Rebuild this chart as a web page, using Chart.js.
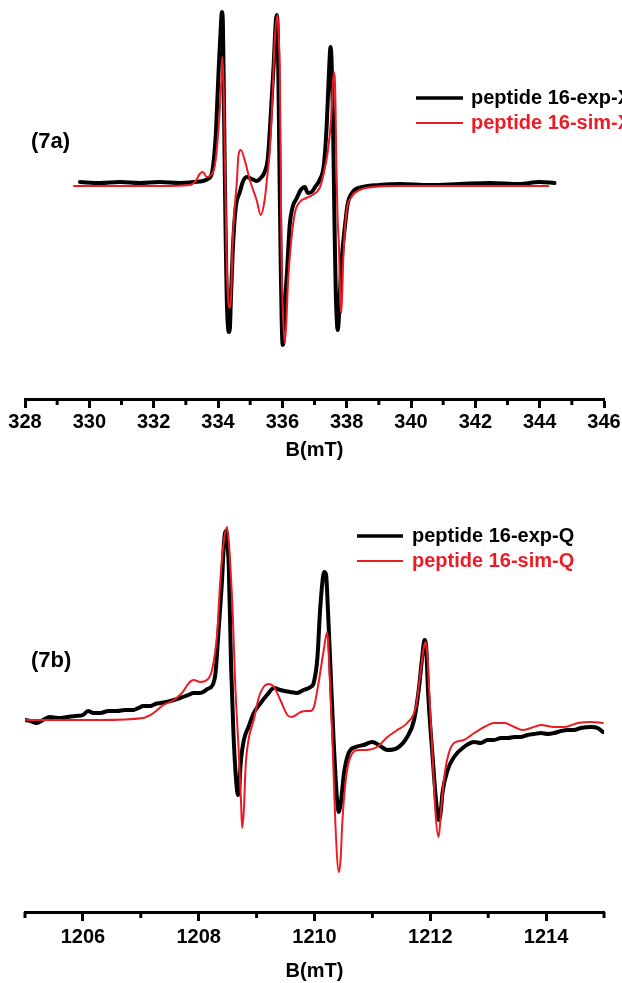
<!DOCTYPE html>
<html><head><meta charset="utf-8">
<script src="https://cdn.jsdelivr.net/npm/chart.js@4.4.0/dist/chart.umd.min.js"></script>
<style>
html,body{margin:0;padding:0;background:#fff;overflow:hidden;width:622px;height:983px;}
.wrap{position:absolute;left:0;}
.panel{position:absolute;font:bold 22px "Liberation Sans",Arial,sans-serif;color:#000;line-height:24px;}
</style></head><body>
<div class="wrap" style="top:0;width:660px;height:462px"><canvas id="cX" width="660" height="462"></canvas></div>
<div class="wrap" style="top:460px;width:660px;height:523px"><canvas id="cQ" width="660" height="523"></canvas></div>
<div class="panel" style="left:31px;top:129px">(7a)</div>
<div class="panel" style="left:31px;top:648px">(7b)</div>
<script>
// ---------- data (B in mT, derivative intensity in arbitrary units) ----------
const seriesNames = ['peptide 16-exp-X', 'peptide 16-sim-X', 'peptide 16-exp-Q', 'peptide 16-sim-Q'];
const ticksX = [328,330,332,334,336,338,340,342,344,346];
const minorTicksX = [329,331,333,335,337,339,341,343,345];
const ticksQ = [1206,1208,1210,1212,1214];
const minorTicksQ = [1205,1207,1209,1211,1213,1215];

const expX = [[329.71,2],[330.33,1],[330.95,2],[331.57,1],[332.19,2],[332.81,1],[333.28,2],[333.53,3],[333.68,5],[333.78,8],
[333.84,16],[333.93,49],[334.02,114],[334.09,159],[334.12,172],[334.15,164],[334.18,94],[334.21,14],[334.24,-56],[334.27,-111],
[334.30,-138],[334.34,-148],[334.37,-144],[334.40,-116],[334.46,-66],[334.55,-24],[334.68,-8],[334.77,2],[334.89,7],[335.05,5],
[335.20,3],[335.33,6],[335.45,12],[335.55,26],[335.64,69],[335.73,119],[335.80,164],[335.83,169],[335.86,149],[335.89,74],
[335.92,-6],[335.95,-81],[335.98,-136],[336.01,-161],[336.04,-156],[336.07,-126],[336.14,-91],[336.23,-41],[336.32,-23],[336.45,-14],
[336.57,-6],[336.70,-3],[336.79,-9],[336.91,-8],[337.04,-2],[337.16,4],[337.29,19],[337.38,59],[337.44,104],[337.50,137],
[337.53,124],[337.57,74],[337.60,9],[337.63,-56],[337.66,-106],[337.69,-134],[337.72,-146],[337.75,-138],[337.78,-116],[337.84,-78],
[337.94,-44],[338.03,-20],[338.19,-8],[338.50,-3],[339.02,-1],[339.65,0],[340.58,-1],[341.51,0],[342.44,1],[343.37,0],[343.99,2],[344.46,1]];

const simX = [[329.52,-2],[330.95,-2],[332.19,-2],[333.12,-1],[333.31,3],[333.43,10],[333.53,12],[333.65,7],[333.78,9],[333.90,18],
[333.99,44],[334.09,94],[334.14,127],[334.18,89],[334.22,17],[334.26,-61],[334.30,-106],[334.37,-124],[334.41,-111],[334.45,-63],
[334.52,-23],[334.59,4],[334.63,27],[334.71,34],[334.83,24],[334.99,4],[335.20,-16],[335.33,-31],[335.45,-16],[335.52,4],
[335.61,34],[335.69,84],[335.76,141],[335.85,169],[335.89,144],[335.92,117],[335.95,17],[335.97,-63],[336.02,-129],[336.07,-159],
[336.12,-141],[336.18,-96],[336.28,-56],[336.39,-29],[336.54,-18],[336.75,-14],[336.94,-11],[337.16,-4],[337.26,7],[337.42,34],
[337.52,67],[337.60,112],[337.63,106],[337.65,84],[337.68,17],[337.72,-36],[337.76,-63],[337.80,-116],[337.83,-129],[337.86,-111],
[337.89,-79],[337.99,-29],[338.15,-13],[338.40,-6],[338.81,-3],[339.65,-2],[341.20,-2],[342.75,-2],[344.27,-2]];

const expQ = [[1205.00,-1],[1205.09,-2],[1205.20,-4],[1205.31,-1],[1205.43,2],[1205.57,1],[1205.73,2],[1205.87,3],[1206.00,4],[1206.09,8],
[1206.18,6],[1206.30,6],[1206.44,8],[1206.59,8],[1206.73,9],[1206.87,9],[1206.96,11],[1207.04,13],[1207.16,13],[1207.25,15],
[1207.34,16],[1207.51,18],[1207.68,21],[1207.82,24],[1207.91,26],[1208.03,26],[1208.15,30],[1208.24,34],[1208.29,46],[1208.34,86],
[1208.40,136],[1208.44,179],[1208.47,188],[1208.49,179],[1208.52,152],[1208.56,52],[1208.60,-14],[1208.65,-64],[1208.68,-76],[1208.70,-71],
[1208.72,-48],[1208.78,-21],[1208.86,-8],[1208.95,6],[1209.07,16],[1209.18,24],[1209.30,31],[1209.41,29],[1209.58,27],[1209.70,26],
[1209.81,29],[1209.93,32],[1209.99,37],[1210.05,61],[1210.10,112],[1210.17,147],[1210.20,144],[1210.23,112],[1210.28,46],[1210.33,-21],
[1210.39,-81],[1210.42,-93],[1210.45,-86],[1210.51,-54],[1210.59,-34],[1210.71,-28],[1210.85,-26],[1211.00,-23],[1211.11,-26],[1211.26,-31],
[1211.43,-29],[1211.60,-18],[1211.72,-1],[1211.80,29],[1211.86,62],[1211.90,79],[1211.93,71],[1211.96,29],[1212.04,-38],[1212.11,-88],
[1212.15,-101],[1212.18,-93],[1212.21,-74],[1212.30,-51],[1212.41,-38],[1212.58,-28],[1212.76,-23],[1212.87,-24],[1212.99,-21],[1213.10,-21],
[1213.22,-19],[1213.34,-19],[1213.45,-18],[1213.56,-18],[1213.68,-16],[1213.79,-15],[1213.91,-14],[1214.03,-15],[1214.14,-14],[1214.26,-12],
[1214.37,-11],[1214.48,-11],[1214.60,-9],[1214.78,-8],[1214.89,-9],[1214.98,-13]];

const simQ = [[1205.00,-1],[1205.61,-1],[1206.30,-1],[1207.04,1],[1207.22,6],[1207.39,14],[1207.57,19],[1207.71,26],[1207.83,36],[1207.91,39],
[1208.03,37],[1208.14,39],[1208.23,49],[1208.32,86],[1208.37,136],[1208.43,176],[1208.49,192],[1208.53,169],[1208.59,102],[1208.63,36],
[1208.69,-31],[1208.73,-81],[1208.75,-109],[1208.78,-91],[1208.81,-48],[1208.86,-21],[1208.95,-1],[1209.04,22],[1209.12,32],[1209.21,35],
[1209.30,32],[1209.41,19],[1209.53,4],[1209.61,2],[1209.76,7],[1209.87,8],[1209.93,8],[1209.99,12],[1210.07,36],[1210.16,69],
[1210.22,87],[1210.24,74],[1210.26,46],[1210.31,-21],[1210.36,-104],[1210.42,-153],[1210.45,-141],[1210.48,-104],[1210.54,-61],[1210.62,-38],
[1210.77,-31],[1210.91,-31],[1211.08,-28],[1211.26,-18],[1211.43,-11],[1211.60,-4],[1211.75,12],[1211.83,46],[1211.89,72],[1211.92,77],
[1211.95,64],[1211.98,29],[1212.04,-38],[1212.09,-94],[1212.14,-118],[1212.16,-111],[1212.19,-88],[1212.25,-54],[1212.32,-34],[1212.41,-24],
[1212.58,-21],[1212.76,-14],[1212.93,-8],[1213.10,-4],[1213.28,-4],[1213.45,-8],[1213.59,-11],[1213.74,-9],[1213.91,-6],[1214.14,-8],
[1214.31,-8],[1214.55,-4],[1214.78,-3],[1214.98,-4]];

// ---------- rendering ----------
const FONT = '"Liberation Sans", Arial, Helvetica, sans-serif';
Chart.defaults.font.family = FONT;
const BLACK = '#000000', RED = '#ec1c24';
const toXY = arr => arr.map(p => ({x: p[0], y: p[1]}));

const minorTickPlugin = {
  id: 'minorTicks',
  afterDraw(chart, args, o) {
    const s = chart.scales.x, ctx = chart.ctx;
    ctx.save();
    ctx.strokeStyle = '#000'; ctx.lineWidth = 3;
    o.values.forEach(v => {
      const px = s.getPixelForValue(v);
      ctx.beginPath(); ctx.moveTo(px, s.top); ctx.lineTo(px, s.top + o.length); ctx.stroke();
    });
    ctx.restore();
  }
};
const sideLegendPlugin = {
  id: 'sideLegend',
  afterDraw(chart, args, o) {
    const ctx = chart.ctx;
    ctx.save();
    ctx.font = 'bold 20px ' + FONT;
    ctx.textBaseline = 'middle';
    ctx.textAlign = 'left';
    chart.data.datasets.forEach((ds, i) => {
      const y = o.y[i];
      ctx.strokeStyle = ds.borderColor; ctx.lineWidth = o.lw[i];
      ctx.beginPath(); ctx.moveTo(o.x, y); ctx.lineTo(o.x + o.len, y); ctx.stroke();
      ctx.fillStyle = ds.borderColor;
      ctx.fillText(ds.label, o.x + o.len + o.gap, y);
    });
    ctx.restore();
  }
};

function makeChart(id, cfg) {
  return new Chart(document.getElementById(id), {
    type: 'line',
    data: {
      datasets: [
        {label: cfg.names[0], data: toXY(cfg.exp), borderColor: BLACK, borderWidth: 4, pointRadius: 0,
         cubicInterpolationMode: 'monotone', borderJoinStyle: 'round', borderCapStyle: 'round', order: 1},
        {label: cfg.names[1], data: toXY(cfg.sim), borderColor: RED, borderWidth: 2, pointRadius: 0,
         cubicInterpolationMode: 'monotone', borderJoinStyle: 'round', borderCapStyle: 'round', order: 0}
      ]
    },
    options: {
      responsive: false, animation: false, devicePixelRatio: 1, events: [],
      layout: {padding: {left: 25, right: 660 - 604, top: 0, bottom: 0}},
      plugins: {
        legend: {display: false}, tooltip: {enabled: false},
        minorTicks: {values: cfg.minor, length: 6},
        sideLegend: cfg.legend
      },
      scales: {
        x: {
          type: 'linear', min: cfg.min, max: cfg.max,
          afterBuildTicks: s => { s.ticks = cfg.ticks.map(v => ({value: v})); },
          afterFit: s => { s.height = cfg.axisH; },
          grid: {display: true, drawOnChartArea: false, drawTicks: true, tickLength: 9, tickWidth: 3, tickColor: '#000'},
          border: {display: true, color: '#000', width: 3},
          ticks: {color: '#000', font: {size: 20, weight: 'bold'}, padding: cfg.tickPad, maxRotation: 0, autoSkip: false,
                  callback: v => String(v)},
          title: {display: true, text: 'B(mT)', color: '#000', font: {size: 20, weight: 'bold'}, padding: {top: 0, bottom: 0}}
        },
        y: {display: false, min: cfg.ymin, max: cfg.ymax}
      }
    },
    plugins: [minorTickPlugin, sideLegendPlugin]
  });
}

makeChart('cX', {
  names: [seriesNames[0], seriesNames[1]], exp: expX, sim: simX,
  min: 328, max: 346, ticks: ticksX, minor: minorTicksX,
  ymin: -215, ymax: 184, axisH: 462 - 399, tickPad: 2,
  legend: {x: 416, len: 47, gap: 8, y: [98, 123], lw: [3.5, 2]}
});
makeChart('cQ', {
  names: [seriesNames[2], seriesNames[3]], exp: expQ, sim: simQ,
  min: 1205, max: 1215, ticks: ticksQ, minor: minorTicksQ,
  ymin: -193, ymax: 259, axisH: 523 - 452, tickPad: 4,
  legend: {x: 357, len: 46, gap: 9, y: [76, 101], lw: [3.5, 2]}
});
</script>
</body></html>
